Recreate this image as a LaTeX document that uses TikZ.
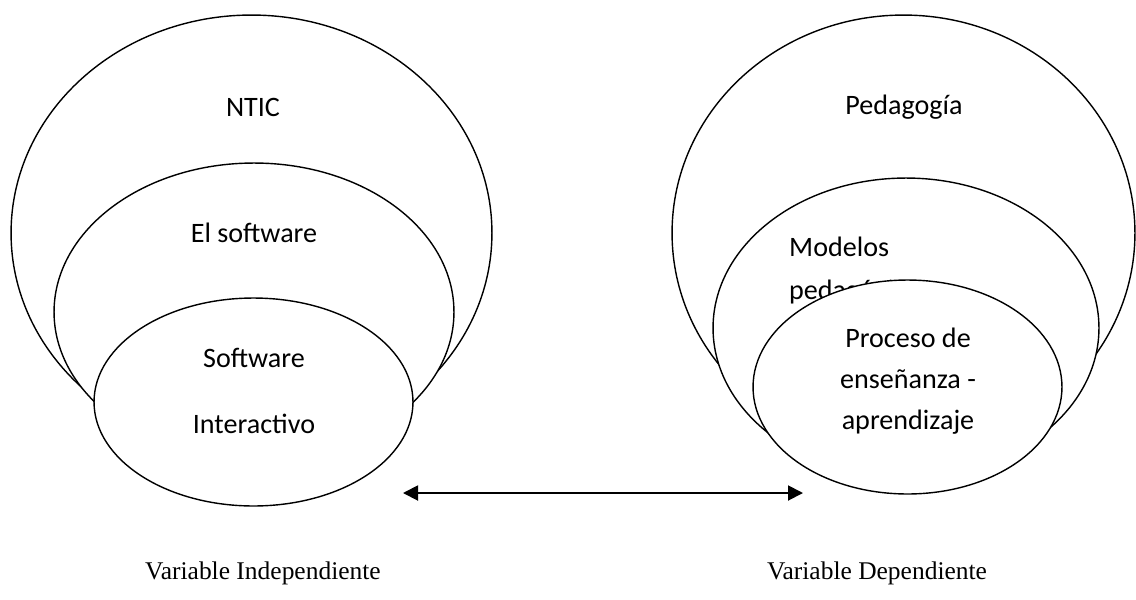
\documentclass[tikz,border=0pt]{standalone}
\usepackage{fontspec}
\setmainfont{Carlito}
\newfontfamily\timesfont{Liberation Serif}
\usetikzlibrary{shapes.geometric,arrows.meta}

\begin{document}
\begin{tikzpicture}[x=0.02cm, y=-0.02cm,
    ring/.style={ellipse, draw=black, fill=white, line width=0.8pt, inner sep=0pt},
    txt/.style={font=\fontsize{16}{20}\selectfont, align=center},
    varlabel/.style={font=\timesfont\fontsize{14.5}{17}\selectfont}
]
\useasboundingbox (0,0) rectangle (1136,599);

% Variable independiente
\node[ring, minimum width=9.62cm, minimum height=8.72cm] (ntic) at (251.5,233) {};
\node[txt] (nticlbl) at (253,107) {NTIC};
\node[ring, minimum width=8cm, minimum height=5.96cm] (soft) at (254,312) {};
\node[txt] (softlbl) at (254,233) {El software};
\node[ring, minimum width=6.38cm, minimum height=4.16cm] (inter) at (253.5,402) {};
\node[txt, font=\fontsize{16}{38}\selectfont] (interlbl) at (254,391) {Software\\Interactivo};

% Variable dependiente
\node[ring, minimum width=9.26cm, minimum height=8.72cm] (pedag) at (903.5,233) {};
\node[txt] (pedaglbl) at (904,107) {Pedagogía};
\node[ring, minimum width=7.72cm, minimum height=6cm] (model) at (906,328) {};
\node[txt, align=left, font=\fontsize{16}{24.5}\selectfont, anchor=west] (modellbl) at (783,271) {Modelos\\pedagógicos};
\node[ring, minimum width=6.18cm, minimum height=4.28cm] (proc) at (907.5,387) {};
\node[txt, font=\fontsize{16}{23.5}\selectfont] (proclbl) at (908,381) {Proceso de\\enseñanza -\\aprendizaje};

% Relacion
\coordinate (arrL) at (403,493);
\coordinate (arrR) at (803,493);
\draw[{Triangle[length=0.3cm,width=0.3cm]}-{Triangle[length=0.3cm,width=0.3cm]}, line width=1.1pt] (arrL) -- (arrR);

% Etiquetas
\node[varlabel] (indep) at (263,573) {Variable Independiente};
\node[varlabel] (dep) at (877,573) {Variable Dependiente};

\end{tikzpicture}
\end{document}
